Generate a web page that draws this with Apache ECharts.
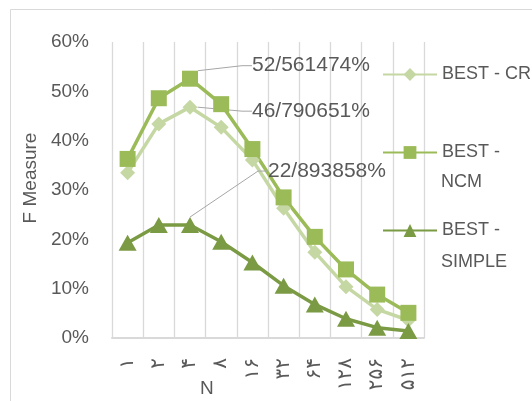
<!DOCTYPE html>
<html>
<head>
  <meta charset="utf-8">
  <title>F Measure</title>
  <script src="https://cdn.jsdelivr.net/npm/echarts@6/dist/echarts.min.js"></script>
  <style>
    html, body { margin: 0; padding: 0; background: #fff; }
    #main { width: 532px; height: 401px; }
  </style>
</head>
<body>
  <div id="main"></div>
  <script type="text/javascript">
    // categories (N) in Persian digits
    var categories = ['۱', '۲', '۴', '۸', '۱۶', '۳۲', '۶۴', '۱۲۸', '۲۵۶', '۵۱۲'];
    // F measure, in percent
    var bestCR = [33.5, 43.4, 46.790651, 42.7, 36.1, 26.3, 17.4, 10.4, 5.8, 3.6];
    var bestNCM = [36.3, 48.6, 52.561474, 47.4, 38.3, 28.5, 20.5, 13.9, 8.8, 5.1];
    var bestSimple = [19.3, 22.9, 22.893858, 19.5, 15.3, 10.6, 6.8, 3.9, 2.1, 1.4];
    var yTicks = [0, 10, 20, 30, 40, 50, 60];
    // the callout labels at the peak
    var peakIndex = 2;
    var peakLabels = { cr: '46/790651%', ncm: '52/561474%', simple: '22/893858%' };

    var gray = '#595959';
    var font = 'Liberation Sans, Arial, sans-serif';

    var myChart = echarts.init(document.getElementById('main'), null, { renderer: 'canvas' });

    function withLabel(values, text, pad) {
      return values.map(function (v, i) {
        if (i !== peakIndex) return v;
        return {
          value: v,
          label: {
            show: true,
            formatter: text,
            color: gray,
            fontSize: 21,
            fontFamily: font,
            padding: [0, 0, 0, pad]
          }
        };
      });
    }

    function layoutAt(dx, dy) {
      return function (params) {
        return {
          x: params.rect.x + params.rect.width / 2 + dx,
          y: params.rect.y + params.rect.height / 2 + dy,
          align: 'left',
          verticalAlign: 'middle'
        };
      };
    }

    var leader = { show: true, length2: 10, lineStyle: { color: '#a6a6a6', width: 1 } };

    var option = {
      animation: false,
      grid: { left: 112, right: 108, top: 42, bottom: 63 },
      legend: {
        orient: 'vertical',
        left: 382,
        top: 65.5,
        padding: 0,
        itemWidth: 54,
        itemHeight: 16,
        itemGap: 60,
        textStyle: { color: gray, fontSize: 18, fontFamily: font },
        formatter: function (name) {
          return name === 'BEST - CR' ? name : 'BEST -';
        },
        data: ['BEST - CR', 'BEST - NCM', 'BEST - SIMPLE']
      },
      xAxis: {
        type: 'category',
        data: categories,
        boundaryGap: true,
        axisTick: { show: false },
        axisLine: { lineStyle: { color: '#d9d9d9', width: 2 } },
        splitLine: { show: true, interval: 0, lineStyle: { color: '#d9d9d9', width: 1.3 } },
        axisLabel: {
          interval: 0,
          rotate: 90,
          margin: 20,
          color: gray,
          fontSize: 20,
          fontFamily: 'DejaVu Sans'
        }
      },
      yAxis: {
        type: 'value',
        min: 0,
        max: 60,
        interval: 10,
        axisLine: { show: false },
        axisTick: { show: false },
        splitLine: { show: false },
        axisLabel: {
          margin: 23,
          color: gray,
          fontSize: 19,
          fontFamily: font,
          formatter: function (v) { return yTicks.indexOf(v) >= 0 ? v + '%' : ''; }
        },
        name: 'F Measure',
        nameLocation: 'middle',
        nameGap: 71,
        nameTextStyle: { color: gray, fontSize: 19, fontFamily: font, padding: [0, 0, 0, 24] }
      },
      graphic: [
        {
          type: 'rect',
          shape: { x: 10.5, y: 9.5, width: 540, height: 420 },
          style: { fill: null, stroke: '#d9d9d9', lineWidth: 1 },
          silent: true
        },
        {
          type: 'text', left: 200, top: 379,
          style: { text: 'N', fill: gray, fontSize: 19, fontFamily: font }
        },
        {
          type: 'text', left: 441, top: 173,
          style: { text: 'NCM', fill: gray, fontSize: 18, fontFamily: font }
        },
        {
          type: 'text', left: 441, top: 253,
          style: { text: 'SIMPLE', fill: gray, fontSize: 18, fontFamily: font }
        }
      ],
      series: [
        {
          name: 'BEST - CR',
          type: 'line',
          data: withLabel(bestCR, peakLabels.cr, 10),
          symbol: 'diamond',
          symbolSize: 15,
          color: '#c5d8a4',
          lineStyle: { width: 3.5, color: '#c5d8a4' },
          itemStyle: { color: '#c5d8a4' },
          labelLayout: layoutAt(52, 4),
          labelLine: leader
        },
        {
          name: 'BEST - NCM',
          type: 'line',
          data: withLabel(bestNCM, peakLabels.ncm, 10),
          symbol: 'rect',
          symbolSize: 16,
          color: '#9bbb59',
          lineStyle: { width: 3.5, color: '#9bbb59' },
          itemStyle: { color: '#9bbb59' },
          labelLayout: layoutAt(52, -13),
          labelLine: leader
        },
        {
          name: 'BEST - SIMPLE',
          type: 'line',
          data: withLabel(bestSimple, peakLabels.simple, 25),
          symbol: 'triangle',
          symbolSize: [18, 16],
          color: '#7b9a44',
          lineStyle: { width: 3.5, color: '#7b9a44' },
          itemStyle: { color: '#7b9a44' },
          labelLayout: layoutAt(53, -54),
          labelLine: leader
        }
      ]
    };

    myChart.setOption(option);
  </script>
</body>
</html>
